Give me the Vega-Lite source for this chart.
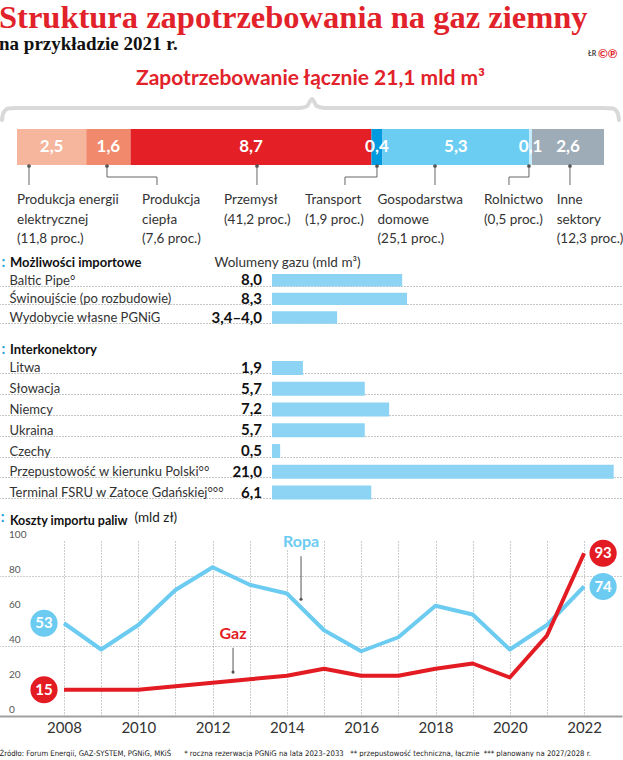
{
  "$schema": "https://vega.github.io/schema/vega-lite/v6.json",
  "background": "white",
  "padding": {"left": -7, "right": 0, "top": 1, "bottom": 0},
  "bounds": "flush",
  "spacing": 0,
  "resolve": {"scale": {"x": "independent", "y": "independent", "color": "independent"}},
  "title": {
    "text": "Struktura zapotrzebowania na gaz ziemny",
    "subtitle": "na przykładzie 2021 r.",
    "anchor": "start",
    "frame": "group",
    "font": "Liberation Serif",
    "fontSize": 32.5,
    "fontWeight": "bold",
    "color": "#e2222a",
    "subtitleFont": "Liberation Serif",
    "subtitleFontSize": 19,
    "subtitleFontWeight": "bold",
    "subtitleColor": "#111111",
    "subtitlePadding": 1,
    "offset": -6
  },
  "config": {
    "view": {"stroke": null},
    "font": "Lato",
    "text": {"font": "Lato"},
    "axis": {"labelFont": "Lato", "titleFont": "Lato", "minExtent": 0},
    "title": {"font": "Lato"}
  },
  "datasets": {
    "brace": [
      {"x": -0.542, "y": 0.3},
      {"x": -0.50, "y": 0.52},
      {"x": -0.32, "y": 0.68},
      {"x": 0.0, "y": 0.7},
      {"x": 10.18, "y": 0.7},
      {"x": 10.47, "y": 0.76},
      {"x": 10.654, "y": 1.0},
      {"x": 10.83, "y": 0.76},
      {"x": 11.12, "y": 0.7},
      {"x": 21.2, "y": 0.7},
      {"x": 21.52, "y": 0.68},
      {"x": 21.70, "y": 0.52},
      {"x": 21.741, "y": 0.3}
    ],
    "segments": [
      {"sector": "Produkcja energii elektrycznej", "value": 2.5, "label": "2,5", "order": 1},
      {"sector": "Produkcja ciepła", "value": 1.6, "label": "1,6", "order": 2},
      {"sector": "Przemysł", "value": 8.7, "label": "8,7", "order": 3},
      {"sector": "Transport", "value": 0.4, "label": "0,4", "order": 4},
      {"sector": "Gospodarstwa domowe", "value": 5.3, "label": "5,3", "order": 5},
      {"sector": "Rolnictwo", "value": 0.1, "label": "0,1", "order": 6},
      {"sector": "Inne sektory", "value": 2.6, "label": "2,6", "order": 7}
    ],
    "callouts": [
      {"sector": "Produkcja energii elektrycznej", "at": 0.433, "elbow": 0.433, "textAt": 0.0, "text": "Produkcja energii\nelektrycznej\n(11,8 proc.)"},
      {"sector": "Produkcja ciepła", "at": 3.25, "elbow": 5.056, "textAt": 4.514, "text": "Produkcja\nciepła\n(7,6 proc.)"},
      {"sector": "Przemysł", "at": 8.667, "elbow": 8.667, "textAt": 7.476, "text": "Przemysł\n(41,2 proc.)"},
      {"sector": "Transport", "at": 13.001, "elbow": 11.845, "textAt": 10.401, "text": "Transport\n(1,9 proc.)"},
      {"sector": "Gospodarstwa domowe", "at": 15.096, "elbow": 15.096, "textAt": 13.019, "text": "Gospodarstwa\ndomowe\n(25,1 proc.)"},
      {"sector": "Rolnictwo", "at": 18.49, "elbow": 17.768, "textAt": 16.865, "text": "Rolnictwo\n(0,5 proc.)"},
      {"sector": "Inne sektory", "at": 19.971, "elbow": 19.971, "textAt": 19.494, "text": "Inne\nsektory\n(12,3 proc.)"}
    ],
    "marks": [
      {"text": "ŁR", "x": 20.62, "y": 2.5, "kind": "author"},
      {"text": "©℗", "x": 20.98, "y": 2.5, "kind": "copyright"}
    ],
    "headers": [
      {"icon": ":", "year": 2006.3, "level": 113.7}
    ],
    "imports": [
      {"name": "Baltic Pipe°", "value": 8.0, "label": "8,0"},
      {"name": "Świnoujście (po rozbudowie)", "value": 8.3, "label": "8,3"},
      {"name": "Wydobycie własne PGNiG", "value": 4.0, "label": "3,4–4,0"}
    ],
    "interconnectors": [
      {"name": "Litwa", "value": 1.9, "label": "1,9"},
      {"name": "Słowacja", "value": 5.7, "label": "5,7"},
      {"name": "Niemcy", "value": 7.2, "label": "7,2"},
      {"name": "Ukraina", "value": 5.7, "label": "5,7"},
      {"name": "Czechy", "value": 0.5, "label": "0,5"},
      {"name": "Przepustowość w kierunku Polski°°", "value": 21.0, "label": "21,0"},
      {"name": "Terminal FSRU w Zatoce Gdańskiej°°°", "value": 6.1, "label": "6,1"}
    ],
    "yticks": [
      {"tick": 0}, {"tick": 20}, {"tick": 40}, {"tick": 60}, {"tick": 80}, {"tick": 100}
    ],
    "costs": [
      {"series": "Ropa", "year": 2008, "value": 53},
      {"series": "Ropa", "year": 2009, "value": 38},
      {"series": "Ropa", "year": 2010, "value": 52},
      {"series": "Ropa", "year": 2011, "value": 72},
      {"series": "Ropa", "year": 2012, "value": 85},
      {"series": "Ropa", "year": 2013, "value": 75},
      {"series": "Ropa", "year": 2014, "value": 70},
      {"series": "Ropa", "year": 2015, "value": 49},
      {"series": "Ropa", "year": 2016, "value": 37},
      {"series": "Ropa", "year": 2017, "value": 45},
      {"series": "Ropa", "year": 2018, "value": 63},
      {"series": "Ropa", "year": 2019, "value": 58},
      {"series": "Ropa", "year": 2020, "value": 38},
      {"series": "Ropa", "year": 2021, "value": 52},
      {"series": "Ropa", "year": 2022, "value": 74},
      {"series": "Gaz", "year": 2008, "value": 15},
      {"series": "Gaz", "year": 2009, "value": 15},
      {"series": "Gaz", "year": 2010, "value": 15},
      {"series": "Gaz", "year": 2011, "value": 17},
      {"series": "Gaz", "year": 2012, "value": 19},
      {"series": "Gaz", "year": 2013, "value": 21},
      {"series": "Gaz", "year": 2014, "value": 23},
      {"series": "Gaz", "year": 2015, "value": 27},
      {"series": "Gaz", "year": 2016, "value": 23},
      {"series": "Gaz", "year": 2017, "value": 23},
      {"series": "Gaz", "year": 2018, "value": 27},
      {"series": "Gaz", "year": 2019, "value": 30},
      {"series": "Gaz", "year": 2020, "value": 22},
      {"series": "Gaz", "year": 2021, "value": 46},
      {"series": "Gaz", "year": 2022, "value": 93}
    ],
    "annotations": [
      {"series": "Ropa", "year": 2014.38, "value": 99.3, "from": 91.3, "to": 66.7},
      {"series": "Gaz", "year": 2012.55, "value": 46.7, "from": 39.0, "to": 25.1}
    ]
  },
  "vconcat": [
    {
      "width": 623,
      "height": 30,
      "title": {
        "text": "Zapotrzebowanie łącznie 21,1 mld m³",
        "anchor": "middle",
        "frame": "group",
        "fontSize": 21,
        "fontWeight": "bold",
        "color": "#e2222a",
        "offset": 8,
        "dy": 49
      },
      "layer": [
        {
          "data": {"name": "brace"},
          "mark": {"type": "line", "interpolate": "monotone", "color": "#d9d9d9", "strokeWidth": 4, "strokeCap": "round"},
          "encoding": {
            "x": {"field": "x", "type": "quantitative", "scale": {"domain": [-0.65, 21.85], "nice": false, "zero": false}, "axis": null},
            "y": {"field": "y", "type": "quantitative", "scale": {"domain": [0, 1], "nice": false}, "axis": null}
          }
        },
        {
          "data": {"name": "marks"},
          "transform": [{"filter": "datum.kind == 'author'"}],
          "mark": {"type": "text", "align": "left", "baseline": "middle", "fontSize": 7, "color": "#444444", "fontWeight": "bold"},
          "encoding": {
            "x": {"field": "x", "type": "quantitative"},
            "y": {"field": "y", "type": "quantitative"},
            "text": {"field": "text"}
          }
        },
        {
          "data": {"name": "marks"},
          "transform": [{"filter": "datum.kind == 'copyright'"}],
          "mark": {"type": "text", "align": "left", "baseline": "middle", "fontSize": 12, "color": "#e2222a", "fontWeight": "bold"},
          "encoding": {
            "x": {"field": "x", "type": "quantitative"},
            "y": {"field": "y", "type": "quantitative"},
            "text": {"field": "text"}
          }
        }
      ]
    },
    {
      "width": 623,
      "height": 36,
      "data": {"name": "segments"},
      "transform": [
        {"stack": "value", "groupby": [], "sort": [{"field": "order"}], "as": ["x0", "x1"]},
        {"calculate": "(datum.x0 + datum.x1) / 2", "as": "mid"}
      ],
      "layer": [
        {
          "mark": {"type": "rect"},
          "encoding": {
            "x": {"field": "x0", "type": "quantitative", "scale": {"domain": [-0.65, 21.85], "nice": false, "zero": false}, "axis": null},
            "x2": {"field": "x1"},
            "color": {
              "field": "sector", "type": "nominal", "legend": null,
              "scale": {
                "domain": ["Produkcja energii elektrycznej", "Produkcja ciepła", "Przemysł", "Transport", "Gospodarstwa domowe", "Rolnictwo", "Inne sektory"],
                "range": ["#f6b59d", "#f18a6c", "#e41f26", "#009ade", "#6ccdf3", "#c4ebfa", "#9eacb8"]
              }
            }
          }
        },
        {
          "mark": {"type": "text", "color": "white", "fontWeight": "bold", "fontSize": 17, "baseline": "middle", "align": "center"},
          "encoding": {
            "x": {"field": "mid", "type": "quantitative"},
            "text": {"field": "label"}
          }
        }
      ]
    },
    {
      "width": 623,
      "height": 109,
      "data": {"name": "callouts"},
      "layer": [
        {
          "mark": {"type": "rule", "color": "#666666", "strokeWidth": 1},
          "encoding": {
            "x": {"field": "at", "type": "quantitative", "scale": {"domain": [-0.65, 21.85], "nice": false, "zero": false}, "axis": null},
            "y": {"value": 0},
            "y2": {"value": 12}
          }
        },
        {
          "mark": {"type": "rule", "color": "#666666", "strokeWidth": 1},
          "encoding": {
            "x": {"field": "at", "type": "quantitative"},
            "x2": {"field": "elbow"},
            "y": {"value": 12}
          }
        },
        {
          "mark": {"type": "rule", "color": "#666666", "strokeWidth": 1},
          "encoding": {
            "x": {"field": "elbow", "type": "quantitative"},
            "y": {"value": 12},
            "y2": {"value": 20}
          }
        },
        {
          "mark": {"type": "point", "filled": true, "color": "#555555", "size": 14, "opacity": 1},
          "encoding": {
            "x": {"field": "at", "type": "quantitative"},
            "y": {"value": 1}
          }
        },
        {
          "mark": {"type": "text", "align": "left", "baseline": "top", "lineBreak": "\n", "lineHeight": 19.5, "fontSize": 13.5, "color": "#333333"},
          "encoding": {
            "x": {"field": "textAt", "type": "quantitative"},
            "y": {"value": 28},
            "text": {"field": "text"}
          }
        }
      ]
    },
    {
      "width": 623,
      "height": 87,
      "title": {"text": "Możliwości importowe", "anchor": "start", "frame": "group", "dx": 11, "dy": 15.5, "offset": 0, "fontSize": 13, "fontWeight": "bold", "color": "#111111"},
      "data": {"name": "imports"},
      "layer": [
        {
          "mark": {"type": "bar", "color": "#8dd3f4"},
          "encoding": {
            "y": {
              "field": "name", "type": "nominal", "sort": null,
              "scale": {"paddingInner": 0.33, "paddingOuter": 1.0817, "align": 0},
              "axis": {
                "orient": "left", "labelAlign": "left", "labelPadding": -10, "labelBaseline": "middle",
                "labelFontSize": 13, "labelColor": "#333333", "labelOffset": -5.5, "tickOffset": 5.5,
                "ticks": false, "tickSize": 0, "domain": false, "grid": true, "gridColor": "#8a8a8a",
                "gridDash": [1, 2], "gridWidth": 1, "labelLimit": 300,
                "title": ":", "titleColor": "#29a3dc", "titleAngle": 0, "titleX": 2, "titleY": -13,
                "titleAlign": "left", "titleBaseline": "middle", "titleFontSize": 15, "titleFontWeight": "bold"
              }
            },
            "x": {
              "field": "value", "type": "quantitative",
              "scale": {"domain": [-16.78, 21.51], "nice": false, "zero": false},
              "axis": {"orient": "top", "labels": false, "ticks": false, "domain": false, "grid": false,
                       "title": "Wolumeny gazu (mld m³)", "titleX": 215, "titleY": -12, "titleAlign": "left",
                       "titleBaseline": "middle", "titleFontSize": 13.5, "titleFontWeight": "normal", "titleColor": "#333333"}
            },
            "x2": {"datum": 0}
          }
        },
        {
          "mark": {"type": "text", "align": "right", "dx": -10, "fontWeight": "bold", "fontSize": 15, "color": "#111111", "baseline": "middle"},
          "encoding": {
            "y": {"field": "name", "type": "nominal", "sort": null},
            "x": {"datum": 0},
            "text": {"field": "label"}
          }
        }
      ]
    },
    {
      "width": 623,
      "height": 180,
      "title": {"text": "Interkonektory", "anchor": "start", "frame": "group", "dx": 11, "dy": 15.5, "offset": 0, "fontSize": 13, "fontWeight": "bold", "color": "#111111"},
      "data": {"name": "interconnectors"},
      "layer": [
        {
          "mark": {"type": "bar", "color": "#8dd3f4"},
          "encoding": {
            "y": {
              "field": "name", "type": "nominal", "sort": null,
              "scale": {"paddingInner": 0.33, "paddingOuter": 1.665, "align": 0},
              "axis": {
                "orient": "left", "labelAlign": "left", "labelPadding": -10, "labelBaseline": "middle",
                "labelFontSize": 13, "labelColor": "#333333", "labelOffset": -5.5, "tickOffset": 5.5,
                "ticks": false, "tickSize": 0, "domain": false, "grid": true, "gridColor": "#8a8a8a",
                "gridDash": [1, 2], "gridWidth": 1, "labelLimit": 300,
                "title": ":", "titleColor": "#29a3dc", "titleAngle": 0, "titleX": 2, "titleY": -13,
                "titleAlign": "left", "titleBaseline": "middle", "titleFontSize": 15, "titleFontWeight": "bold"
              }
            },
            "x": {
              "field": "value", "type": "quantitative",
              "scale": {"domain": [-16.78, 21.51], "nice": false, "zero": false},
              "axis": null
            },
            "x2": {"datum": 0}
          }
        },
        {
          "mark": {"type": "text", "align": "right", "dx": -10, "fontWeight": "bold", "fontSize": 15, "color": "#111111", "baseline": "middle"},
          "encoding": {
            "y": {"field": "name", "type": "nominal", "sort": null},
            "x": {"datum": 0},
            "text": {"field": "label"}
          }
        }
      ]
    },
    {
      "width": 623,
      "height": 175,
      "title": {"text": "Koszty importu paliw", "anchor": "start", "frame": "group", "dx": 11, "dy": 17, "offset": 0, "fontSize": 12.5, "fontWeight": "bold", "color": "#111111"},
      "layer": [
        {
          "data": {"name": "costs"},
          "mark": {"type": "line", "strokeWidth": 4, "strokeJoin": "round"},
          "encoding": {
            "x": {
              "field": "year", "type": "quantitative",
              "scale": {"domain": [2006.25, 2023.02], "nice": false, "zero": false},
              "axis": {
                "values": [2008, 2009, 2010, 2011, 2012, 2013, 2014, 2015, 2016, 2017, 2018, 2019, 2020, 2021, 2022],
                "labelExpr": "datum.value % 2 == 0 ? datum.value : ''",
                "grid": true, "gridDash": [1, 2], "gridColor": "#9a9a9a", "gridWidth": 1,
                "ticks": false, "tickSize": 0, "domain": true, "domainColor": "#a0a0a0", "domainWidth": 2,
                "labelFontSize": 15, "labelColor": "#333333", "labelPadding": 4, "labelFlush": false,
                "title": "Źródło: Forum Energii, GAZ-SYSTEM, PGNiG, MKiŚ\u00a0\u00a0\u00a0\u00a0\u00a0\u00a0* roczna rezerwacja PGNiG na lata 2023–2033\u00a0\u00a0\u00a0** przepustowość techniczna, łącznie\u00a0\u00a0*** planowany na 2027/2028 r.",
                "titleX": 0, "titleY": 37, "titleAlign": "left", "titleAnchor": "start", "titleBaseline": "middle",
                "titleFont": "Liberation Sans Narrow, DejaVu Sans Condensed, sans-serif", "titleFontSize": 7.7,
                "titleFontWeight": "normal", "titleColor": "#222222", "titleLimit": 700
              }
            },
            "y": {
              "field": "value", "type": "quantitative",
              "scale": {"domain": [0, 100], "nice": false},
              "axis": {
                "values": [0, 20, 40, 60, 80, 100],
                "labels": false,
                "grid": true, "gridDash": [1, 2], "gridColor": "#9a9a9a", "gridWidth": 1,
                "ticks": false, "tickSize": 0, "domain": false,
                "title": "(mld zł)", "titleAngle": 0, "titleX": 135, "titleY": -24, "titleAlign": "left",
                "titleBaseline": "middle", "titleFontSize": 13.5, "titleFontWeight": "normal", "titleColor": "#222222"
              }
            },
            "color": {
              "field": "series", "type": "nominal", "legend": null,
              "scale": {"domain": ["Ropa", "Gaz"], "range": ["#6ccbf1", "#e31b23"]}
            }
          }
        },
        {
          "data": {"name": "yticks"},
          "mark": {"type": "text", "align": "left", "baseline": "alphabetic", "dy": -3, "fontSize": 10, "color": "#555555"},
          "encoding": {
            "x": {"datum": 2006.52},
            "y": {"field": "tick", "type": "quantitative"},
            "text": {"field": "tick", "type": "quantitative", "format": "d"}
          }
        },
        {
          "data": {"name": "headers"},
          "mark": {"type": "text", "align": "left", "baseline": "middle", "fontSize": 15, "fontWeight": "bold", "color": "#29a3dc"},
          "encoding": {
            "x": {"field": "year", "type": "quantitative"},
            "y": {"field": "level", "type": "quantitative"},
            "text": {"field": "icon"}
          }
        },
        {
          "data": {"name": "annotations"},
          "mark": {"type": "rule", "color": "#555555", "strokeWidth": 1},
          "encoding": {
            "x": {"field": "year", "type": "quantitative"},
            "y": {"field": "from", "type": "quantitative"},
            "y2": {"field": "to"}
          }
        },
        {
          "data": {"name": "annotations"},
          "mark": {"type": "point", "filled": true, "color": "#555555", "size": 10, "opacity": 1},
          "encoding": {
            "x": {"field": "year", "type": "quantitative"},
            "y": {"field": "to", "type": "quantitative"}
          }
        },
        {
          "data": {"name": "annotations"},
          "mark": {"type": "text", "fontWeight": "bold", "fontSize": 16, "stroke": "white", "strokeWidth": 5, "baseline": "middle", "align": "center"},
          "encoding": {
            "x": {"field": "year", "type": "quantitative"},
            "y": {"field": "value", "type": "quantitative"},
            "text": {"field": "series"}
          }
        },
        {
          "data": {"name": "annotations"},
          "mark": {"type": "text", "fontWeight": "bold", "fontSize": 16, "baseline": "middle", "align": "center"},
          "encoding": {
            "x": {"field": "year", "type": "quantitative"},
            "y": {"field": "value", "type": "quantitative"},
            "text": {"field": "series"},
            "color": {"field": "series", "type": "nominal", "legend": null}
          }
        },
        {
          "data": {"name": "costs"},
          "transform": [{"filter": "datum.year == 2008"}],
          "mark": {"type": "circle", "size": 740, "opacity": 1, "xOffset": -20},
          "encoding": {
            "x": {"field": "year", "type": "quantitative"},
            "y": {"field": "value", "type": "quantitative"},
            "color": {"field": "series", "type": "nominal", "legend": null}
          }
        },
        {
          "data": {"name": "costs"},
          "transform": [{"filter": "datum.year == 2008"}],
          "mark": {"type": "text", "color": "white", "fontWeight": "bold", "fontSize": 15, "baseline": "middle", "align": "center", "dx": -20},
          "encoding": {
            "x": {"field": "year", "type": "quantitative"},
            "y": {"field": "value", "type": "quantitative"},
            "text": {"field": "value", "type": "quantitative", "format": ".0f"}
          }
        },
        {
          "data": {"name": "costs"},
          "transform": [{"filter": "datum.year == 2022"}],
          "mark": {"type": "circle", "size": 740, "opacity": 1, "xOffset": 19},
          "encoding": {
            "x": {"field": "year", "type": "quantitative"},
            "y": {"field": "value", "type": "quantitative"},
            "color": {"field": "series", "type": "nominal", "legend": null}
          }
        },
        {
          "data": {"name": "costs"},
          "transform": [{"filter": "datum.year == 2022"}],
          "mark": {"type": "text", "color": "white", "fontWeight": "bold", "fontSize": 15, "baseline": "middle", "align": "center", "dx": 19},
          "encoding": {
            "x": {"field": "year", "type": "quantitative"},
            "y": {"field": "value", "type": "quantitative"},
            "text": {"field": "value", "type": "quantitative", "format": ".0f"}
          }
        }
      ]
    }
  ]
}
